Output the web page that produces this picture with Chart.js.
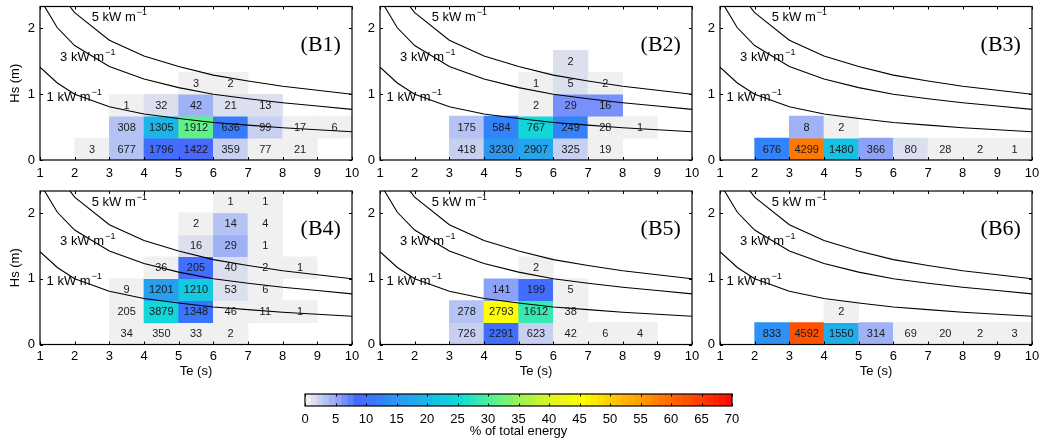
<!DOCTYPE html>
<html>
<head>
<meta charset="utf-8">
<script src="https://cdn.jsdelivr.net/npm/chart.js@4.4.0/dist/chart.umd.min.js"></script>
<style>
  body { margin: 0; background: #fff; width: 1040px; height: 444px; position: relative; overflow: hidden; }
  canvas { position: absolute; }
</style>
</head>
<body>
<canvas id="b1" width="360" height="185" style="left:0;top:0"></canvas>
<canvas id="b2" width="360" height="185" style="left:340px;top:0"></canvas>
<canvas id="b3" width="360" height="185" style="left:680px;top:0"></canvas>
<canvas id="b4" width="360" height="200" style="left:0;top:185px"></canvas>
<canvas id="b5" width="360" height="200" style="left:340px;top:185px"></canvas>
<canvas id="b6" width="360" height="200" style="left:680px;top:185px"></canvas>
<canvas id="cbar" width="460" height="59" style="left:290px;top:385px"></canvas>
<script>
// bin edges: Te (s) and Hs (m)
const teEdges = [1, 2, 3, 4, 5, 6, 7, 8, 9, 10];
const hsEdges = [0, 1/3, 2/3, 1, 4/3, 5/3, 2, 7/3];
const xTicks = [1, 2, 3, 4, 5, 6, 7, 8, 9, 10];
const yTicks = [0, 1, 2];
const cbTicks = [0, 5, 10, 15, 20, 25, 30, 35, 40, 45, 50, 55, 60, 65, 70];

// wave power contours
const contourTe = [1, 1.5, 2, 3, 4, 5, 6, 7, 8, 9, 10];
const hs1kW = [1.41, 1.17, 1.0, 0.81, 0.7, 0.63, 0.57, 0.53, 0.49, 0.46, 0.43];
const hs3kW = [2.45, 2.01, 1.74, 1.42, 1.23, 1.1, 1.0, 0.93, 0.87, 0.82, 0.77];
const hs5kW = [3.16, 2.58, 2.24, 1.82, 1.58, 1.42, 1.29, 1.2, 1.12, 1.06, 1.0];
const contourNames = ['5 kW m', '3 kW m', '1 kW m'];
const contourLabelTe = [2.49, 1.58, 1.19];
const contourLabelHs = [2.16, 1.56, 0.955];

// occurrences per cell (rows = Hs bins from bottom, cols = Te bins 1-2 ... 9-10)
const b1Counts = [
  [null, 3, 677, 1796, 1422, 359, 77, 21, null],
  [null, null, 308, 1305, 1912, 636, 99, 17, 6],
  [null, null, 1, 32, 42, 21, 13, null, null],
  [null, null, null, null, 3, 2, null, null, null]
];
const b1Energy = [
  [null, 0.1, 3.5, 9, 8.5, 2.5, 0.7, 0.2, null],
  [null, null, 3.5, 19, 31, 11.5, 2.5, 0.5, 0.3],
  [null, null, 0.05, 1.5, 4.5, 1.8, 1.8, null, null],
  [null, null, null, null, 0.3, 0.2, null, null, null]
];
const b2Counts = [
  [null, null, 418, 3230, 2907, 325, 19, null, null],
  [null, null, 175, 584, 767, 249, 28, 1, null],
  [null, null, null, null, 2, 29, 16, null, null],
  [null, null, null, null, 1, 5, 2, null, null],
  [null, null, null, null, null, 2, null, null, null]
];
const b2Energy = [
  [null, null, 2.5, 15.5, 17, 2.5, 0.5, null, null],
  [null, null, 3.3, 12, 24, 12, 0.8, 0.05, null],
  [null, null, null, null, 0.1, 6.5, 6.3, null, null],
  [null, null, null, null, 0.1, 1.5, 0.8, null, null],
  [null, null, null, null, null, 1.2, null, null, null]
];
const b3Counts = [
  [null, 676, 4299, 1480, 366, 80, 28, 2, 1],
  [null, null, 8, 2, null, null, null, null, null]
];
const b3Energy = [
  [null, 12.5, 58, 21, 5.5, 1.5, 0.6, 0.05, 0.03],
  [null, null, 4.5, 0.5, null, null, null, null, null]
];
const b4Counts = [
  [null, null, 34, 350, 33, 2, null, null, null],
  [null, null, 205, 3879, 1348, 46, 11, 1, null],
  [null, null, 9, 1201, 1210, 53, 6, null, null],
  [null, null, null, 36, 205, 40, 2, 1, null],
  [null, null, null, null, 16, 29, 1, null, null],
  [null, null, null, null, 2, 14, 4, null, null],
  [null, null, null, null, null, 1, 1, null, null]
];
const b4Energy = [
  [null, null, 0.3, 0.9, 0.1, 0.02, null, null, null],
  [null, null, 0.8, 24.5, 10.5, 0.6, 0.2, 0.05, null],
  [null, null, 0.1, 16.5, 22, 1.5, 0.2, null, null],
  [null, null, null, 0.9, 9.5, 1.7, 0.1, 0.05, null],
  [null, null, null, null, 1.3, 4.5, 0.1, null, null],
  [null, null, null, null, 0.2, 3, 0.6, null, null],
  [null, null, null, null, null, 0.1, 0.1, null, null]
];
const b5Counts = [
  [null, null, 726, 2291, 623, 42, 6, 4, null],
  [null, null, 278, 2793, 1612, 38, null, null, null],
  [null, null, null, 141, 199, 5, null, null, null],
  [null, null, null, null, 2, null, null, null, null]
];
const b5Energy = [
  [null, null, 2, 9, 2.2, 0.3, 0.1, 0.1, null],
  [null, null, 3.3, 45, 28, 0.5, null, null, null],
  [null, null, null, 5.8, 9.2, 0.1, null, null, null],
  [null, null, null, null, 0.1, null, null, null, null]
];
const b6Counts = [
  [null, 833, 4592, 1550, 314, 69, 20, 2, 3],
  [null, null, null, 2, null, null, null, null, null]
];
const b6Energy = [
  [null, 14, 62, 18.5, 4.8, 0.9, 0.3, 0.03, 0.05],
  [null, null, null, 0.1, null, null, null, null, null]
];

// colour map (% of total energy -> colour)
const cmapAt = [0, 1, 2, 3, 4, 5, 6, 7, 8, 10, 15, 20, 25, 30, 35, 40, 45, 50, 55, 60, 65, 70];
const cmapCol = ['#f0f0f0', '#dcdfee', '#c8d0f2', '#b4c2f4', '#a0b2f6', '#8ca2f8', '#7890fa', '#6080fd',
  '#4868ff', '#3a74ff', '#2a98f2', '#18bce6', '#10dcd6', '#50f098', '#a0f450', '#e0f420', '#ffff00',
  '#ffc800', '#ff9800', '#ff6400', '#ff3800', '#ff0000'];

function hex(c) { return [1, 3, 5].map(i => parseInt(c.substr(i, 2), 16)); }
function cmap(v) {
  const lv = Math.max(0, Math.min(69, Math.floor(v)));
  let i = 0;
  while (i < cmapAt.length - 2 && lv > cmapAt[i + 1]) i++;
  const t = (lv - cmapAt[i]) / (cmapAt[i + 1] - cmapAt[i]);
  const a = hex(cmapCol[i]), b = hex(cmapCol[i + 1]);
  const m = a.map((x, k) => Math.round(x + (b[k] - x) * t));
  return 'rgb(' + m.join(',') + ')';
}

const FONT = '"Liberation Sans", Arial, Helvetica, sans-serif';
Chart.defaults.font.family = FONT;
Chart.defaults.font.size = 13;
Chart.defaults.color = '#000';

// keep the plot area exactly where the layout padding puts it
function noPad(s) { s.paddingLeft = 0; s.paddingRight = 0; s.paddingTop = 0; s.paddingBottom = 0; }

const boxPlugin = {
  id: 'box',
  afterDatasetsDraw(chart, args, opts) {
    const ctx = chart.ctx, a = chart.chartArea;
    const xs = chart.scales.x, ys = chart.scales.y;
    ctx.save();
    // counts in the cells
    const bars = chart.getDatasetMeta(0);
    const txt = chart.data.datasets[0].cellText;
    if (txt) {
      ctx.font = '11px ' + FONT;
      ctx.fillStyle = '#1a1a1a';
      ctx.textAlign = 'center';
      ctx.textBaseline = 'middle';
      bars.data.forEach((el, i) => ctx.fillText(txt[i], el.x, (el.y + el.base) / 2 + 0.5));
    }
    ctx.fillStyle = '#000';
    // contour labels
    if (opts.contours) {
      ctx.textAlign = 'left';
      ctx.textBaseline = 'middle';
      contourNames.forEach((name, i) => {
        const px = xs.getPixelForValue(contourLabelTe[i]);
        const py = ys.getPixelForValue(contourLabelHs[i]);
        ctx.font = '13px ' + FONT;
        ctx.fillText(name, px, py);
        const w = ctx.measureText(name).width;
        ctx.font = '9px ' + FONT;
        ctx.fillText('\u22121', px + w + 1, py - 5);
      });
    }
    // panel tag
    if (opts.tag) {
      ctx.font = '22px "Liberation Serif", "Times New Roman", serif';
      ctx.textAlign = 'right';
      ctx.textBaseline = 'middle';
      ctx.fillText(opts.tag, xs.getPixelForValue(9.68), ys.getPixelForValue(1.75));
    }
    // axis titles
    ctx.font = '13px ' + FONT;
    ctx.textAlign = 'center';
    ctx.textBaseline = 'middle';
    if (opts.xTitle) ctx.fillText(opts.xTitle, (a.left + a.right) / 2, opts.xTitleY);
    if (opts.yTitle) {
      ctx.save();
      ctx.translate(15, (a.top + a.bottom) / 2);
      ctx.rotate(-Math.PI / 2);
      ctx.fillText(opts.yTitle, 0, 0);
      ctx.restore();
    }
    // frame with inward ticks
    ctx.strokeStyle = '#000';
    ctx.lineWidth = 1.2;
    ctx.strokeRect(a.left, a.top, a.right - a.left, a.bottom - a.top);
    const tl = opts.tickLen || 3;
    ctx.lineWidth = 1;
    ctx.beginPath();
    xs.ticks.forEach(t => {
      const px = Math.round(xs.getPixelForValue(t.value)) + 0.5;
      ctx.moveTo(px, a.bottom); ctx.lineTo(px, a.bottom - tl);
      ctx.moveTo(px, a.top); ctx.lineTo(px, a.top + tl);
    });
    if (ys.options.display) {
      ys.ticks.forEach(t => {
        const py = Math.round(ys.getPixelForValue(t.value)) + 0.5;
        ctx.moveTo(a.left, py); ctx.lineTo(a.left + tl, py);
        ctx.moveTo(a.right, py); ctx.lineTo(a.right - tl, py);
      });
    }
    ctx.stroke();
    ctx.restore();
  }
};

const panels = [
  { id: 'b1', tag: '(B1)', counts: b1Counts, energy: b1Energy, bottom: false, left: true },
  { id: 'b2', tag: '(B2)', counts: b2Counts, energy: b2Energy, bottom: false, left: false },
  { id: 'b3', tag: '(B3)', counts: b3Counts, energy: b3Energy, bottom: false, left: false },
  { id: 'b4', tag: '(B4)', counts: b4Counts, energy: b4Energy, bottom: true, left: true },
  { id: 'b5', tag: '(B5)', counts: b5Counts, energy: b5Energy, bottom: true, left: false },
  { id: 'b6', tag: '(B6)', counts: b6Counts, energy: b6Energy, bottom: true, left: false }
];

panels.forEach(p => {
  const cells = [], colors = [], texts = [];
  p.counts.forEach((row, r) => row.forEach((n, c) => {
    if (n === null) return;
    cells.push({ x: (teEdges[c] + teEdges[c + 1]) / 2, y: [hsEdges[r], hsEdges[r + 1]] });
    colors.push(cmap(p.energy[r][c]));
    texts.push(String(n));
  }));
  const lines = [hs5kW, hs3kW, hs1kW].map(hs => ({
    type: 'line',
    data: contourTe.map((t, i) => ({ x: t, y: hs[i] })),
    borderColor: '#000', borderWidth: 1.1, pointRadius: 0, tension: 0, fill: false, order: 0
  }));
  new Chart(document.getElementById(p.id), {
    type: 'bar',
    data: {
      datasets: [{
        type: 'bar', data: cells, backgroundColor: colors, cellText: texts,
        borderWidth: 0, barPercentage: 1, categoryPercentage: 1, grouped: false, order: 1
      }, ...lines]
    },
    options: {
      responsive: false,
      animation: false,
      layout: { padding: { left: 0, right: 8, top: p.bottom ? 6 : 6.5, bottom: 0 } },
      plugins: {
        legend: { display: false },
        tooltip: { enabled: false },
        box: {
          contours: true, tag: p.tag,
          xTitle: p.bottom ? 'Te (s)' : null, xTitleY: 186.5,
          yTitle: p.left ? 'Hs (m)' : null
        }
      },
      scales: {
        x: {
          type: 'linear', min: 1, max: 10, offset: false,
          grid: { display: false, drawTicks: false, offset: false }, border: { display: false },
          afterBuildTicks: s => { s.ticks = xTicks.map(v => ({ value: v })); },
          ticks: { padding: p.bottom ? 4.5 : 5.7, maxRotation: 0 },
          afterFit: s => { s.height = p.bottom ? 40.5 : 25; noPad(s); }
        },
        y: {
          type: 'linear', min: 0, max: 7 / 3,
          grid: { display: false, drawTicks: false }, border: { display: false },
          afterBuildTicks: s => { s.ticks = yTicks.map(v => ({ value: v })); },
          ticks: { padding: 5 },
          afterFit: s => { s.width = 40; noPad(s); }
        }
      }
    },
    plugins: [boxPlugin]
  });
});

// colour bar
const cbCells = [], cbColors = [];
for (let i = 0; i < 70; i++) {
  cbCells.push({ x: i + 0.5, y: [0, 1] });
  cbColors.push(cmap(i));
}
new Chart(document.getElementById('cbar'), {
  type: 'bar',
  data: { datasets: [{ data: cbCells, backgroundColor: cbColors, borderWidth: 0,
    barPercentage: 1, categoryPercentage: 1, grouped: false }] },
  options: {
    responsive: false,
    animation: false,
    layout: { padding: { left: 15, right: 18, top: 9, bottom: 0 } },
    plugins: {
      legend: { display: false }, tooltip: { enabled: false },
      box: { tickLen: 2.5, xTitle: '% of total energy', xTitleY: 46.7 }
    },
    scales: {
      x: {
        type: 'linear', min: 0, max: 70, offset: false,
        grid: { display: false, drawTicks: false, offset: false }, border: { display: false },
        afterBuildTicks: s => { s.ticks = cbTicks.map(v => ({ value: v })); },
        ticks: { padding: 5.5, maxRotation: 0 },
        afterFit: s => { s.height = 38; noPad(s); }
      },
      y: { display: false, min: 0, max: 1 }
    }
  },
  plugins: [boxPlugin]
});
</script>
</body>
</html>
